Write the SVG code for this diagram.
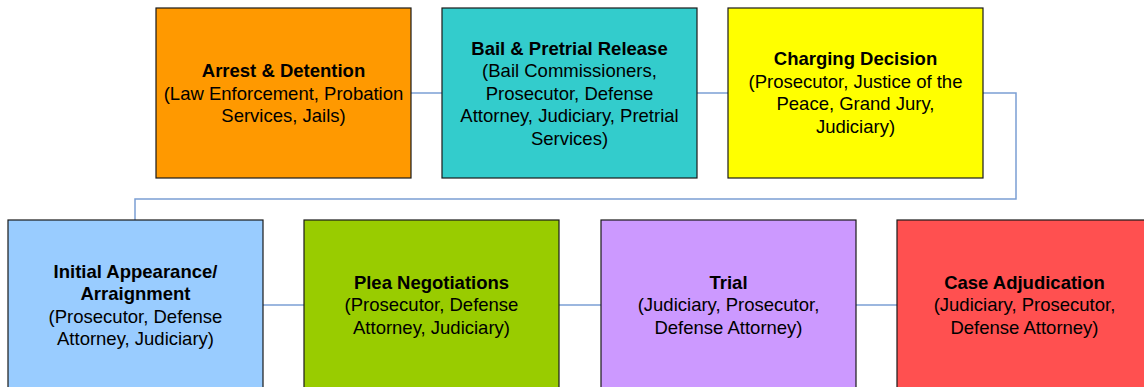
<svg xmlns="http://www.w3.org/2000/svg" width="1144" height="387" viewBox="0 0 1144 387">
<style>
.box{stroke:#1a1a1a;stroke-width:1.2}
.conn{fill:none;stroke:#7b9fd4;stroke-width:1.5}
text{font-family:"Liberation Sans",Arial,sans-serif;font-size:18.5px;fill:#000;text-anchor:middle}
.t{font-weight:bold}
</style>
<rect width="1144" height="387" fill="#fff"/>
<g id="connectors">
<line class="conn" x1="411" y1="93" x2="442" y2="93"/>
<line class="conn" x1="697" y1="93" x2="728" y2="93"/>
<polyline class="conn" points="983,93 1016,93 1016,199 135,199 135,220"/>
<line class="conn" x1="263" y1="305" x2="304" y2="305"/>
<line class="conn" x1="559" y1="305" x2="601" y2="305"/>
<line class="conn" x1="856" y1="305" x2="897" y2="305"/>
</g>
<g id="arrest">
<rect class="box" x="156" y="8" width="255" height="170" fill="#FF9900"/>
<text x="283.5" y="77" class="t">Arrest &amp; Detention</text>
<text x="283.5" y="99.5">(Law Enforcement, Probation</text>
<text x="283.5" y="122">Services, Jails)</text>
</g>
<g id="bail">
<rect class="box" x="442" y="8" width="255" height="170" fill="#33CCCC"/>
<text x="569.5" y="54.5" class="t">Bail &amp; Pretrial Release</text>
<text x="569.5" y="77">(Bail Commissioners,</text>
<text x="569.5" y="99.5">Prosecutor, Defense</text>
<text x="569.5" y="122">Attorney, Judiciary, Pretrial</text>
<text x="569.5" y="144.5">Services)</text>
</g>
<g id="charging">
<rect class="box" x="728" y="8" width="255" height="170" fill="#FFFF00"/>
<text x="855.5" y="65" class="t">Charging Decision</text>
<text x="855.5" y="87.5">(Prosecutor, Justice of the</text>
<text x="855.5" y="110">Peace, Grand Jury,</text>
<text x="855.5" y="132.5">Judiciary)</text>
</g>
<g id="initial">
<rect class="box" x="8" y="220" width="255" height="170" fill="#99CCFF"/>
<text x="135.5" y="277.5" class="t">Initial Appearance/</text>
<text x="135.5" y="300" class="t">Arraignment</text>
<text x="135.5" y="322.5">(Prosecutor, Defense</text>
<text x="135.5" y="345">Attorney, Judiciary)</text>
</g>
<g id="plea">
<rect class="box" x="304" y="220" width="255" height="170" fill="#99CC00"/>
<text x="431.5" y="288.5" class="t">Plea Negotiations</text>
<text x="431.5" y="311">(Prosecutor, Defense</text>
<text x="431.5" y="333.5">Attorney, Judiciary)</text>
</g>
<g id="trial">
<rect class="box" x="601" y="220" width="255" height="170" fill="#CC99FF"/>
<text x="728.5" y="288.5" class="t">Trial</text>
<text x="728.5" y="311">(Judiciary, Prosecutor,</text>
<text x="728.5" y="333.5">Defense Attorney)</text>
</g>
<g id="adjudication">
<rect class="box" x="897" y="220" width="255" height="170" fill="#FF5050"/>
<text x="1024.5" y="288.5" class="t">Case Adjudication</text>
<text x="1024.5" y="311">(Judiciary, Prosecutor,</text>
<text x="1024.5" y="333.5">Defense Attorney)</text>
</g>
</svg>
